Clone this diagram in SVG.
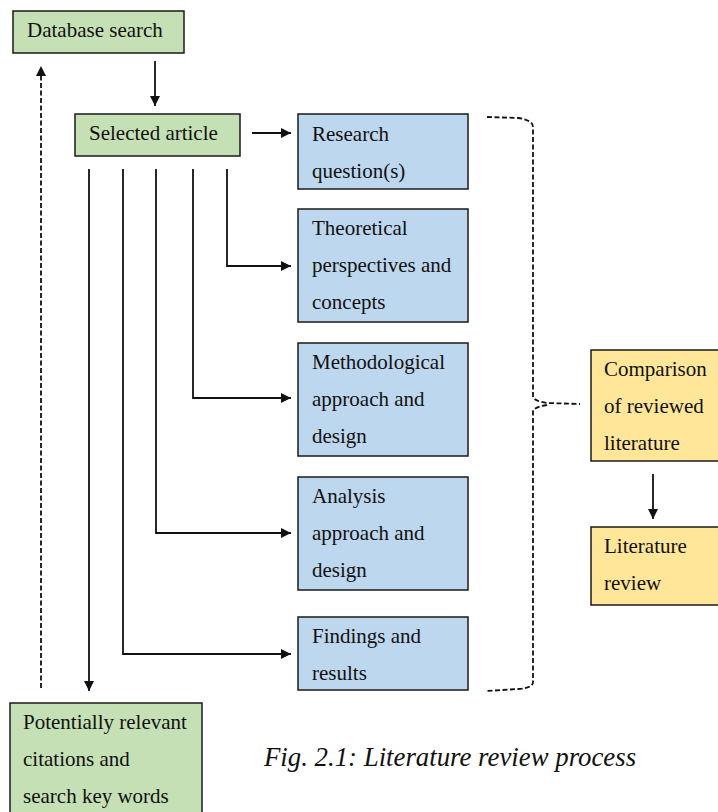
<svg xmlns="http://www.w3.org/2000/svg" width="718" height="812" viewBox="0 0 718 812">
  <style>
    .box { stroke: #1a1a1a; stroke-width: 1.5; }
    .green { fill: #c5e0b4; }
    .blue { fill: #bdd7ee; }
    .yellow { fill: #ffe699; }
    .lbl { font-family: "Liberation Serif", "Times New Roman", serif; font-size: 21px; fill: #111; }
    .cap { font-family: "Liberation Serif", "Times New Roman", serif; font-size: 26.8px; font-style: italic; fill: #111; }
    .wire { fill: none; stroke: #111; stroke-width: 1.8; }
    .dash { fill: none; stroke: #111; stroke-width: 1.8; stroke-dasharray: 5 2.5; }
  </style>
  <defs>
    <marker id="arrow" viewBox="0 0 10 10" refX="10" refY="5" markerWidth="11" markerHeight="10" markerUnits="userSpaceOnUse" orient="auto">
      <path d="M0,0 L10,5 L0,10 Z" fill="#111"/>
    </marker>
  </defs>
  <rect width="718" height="812" fill="#ffffff"/>

  <g id="connectors">
    <!-- search -> selected -->
    <line class="wire" x1="155" y1="61" x2="155" y2="106" marker-end="url(#arrow)"/>
    <!-- selected -> research question -->
    <line class="wire" x1="252" y1="133" x2="291" y2="133" marker-end="url(#arrow)"/>
    <!-- branches down from selected article -->
    <path class="wire" d="M227,169 V266 H291" marker-end="url(#arrow)"/>
    <path class="wire" d="M193,169 V398 H291" marker-end="url(#arrow)"/>
    <path class="wire" d="M156,169 V533 H291" marker-end="url(#arrow)"/>
    <path class="wire" d="M123,169 V654 H291" marker-end="url(#arrow)"/>
    <line class="wire" x1="89" y1="169" x2="89" y2="691" marker-end="url(#arrow)"/>
    <!-- feedback to database search -->
    <line class="dash" x1="41" y1="688" x2="41" y2="66" marker-end="url(#arrow)"/>
    <!-- brace gathering the five aspects -->
    <path class="dash" d="M487,117 L518,118 Q533,120 533,127 V396 Q533,401 547,403 L580,404 M547,405 Q533,407 533,412 V682 Q533,688 518,689 L487,691"/>
    <!-- comparison -> literature review -->
    <line class="wire" x1="653" y1="474" x2="653" y2="519" marker-end="url(#arrow)"/>
  </g>

  <g id="database-search">
    <rect class="box green" x="13" y="11" width="171" height="42"/>
    <text class="lbl" x="27" y="37">Database search</text>
  </g>
  <g id="selected-article">
    <rect class="box green" x="75" y="114" width="165" height="42"/>
    <text class="lbl" x="89" y="140">Selected article</text>
  </g>
  <g id="research-question">
    <rect class="box blue" x="298" y="114" width="170" height="75"/>
    <text class="lbl" x="312" y="141">Research</text>
    <text class="lbl" x="312" y="178">question(s)</text>
  </g>
  <g id="theoretical-perspectives">
    <rect class="box blue" x="298" y="209" width="170" height="113"/>
    <text class="lbl" x="312" y="235">Theoretical</text>
    <text class="lbl" x="312" y="272">perspectives and</text>
    <text class="lbl" x="312" y="309">concepts</text>
  </g>
  <g id="methodological-approach">
    <rect class="box blue" x="298" y="343" width="170" height="113"/>
    <text class="lbl" x="312" y="369">Methodological</text>
    <text class="lbl" x="312" y="406">approach and</text>
    <text class="lbl" x="312" y="443">design</text>
  </g>
  <g id="analysis-approach">
    <rect class="box blue" x="298" y="477" width="170" height="113"/>
    <text class="lbl" x="312" y="503">Analysis</text>
    <text class="lbl" x="312" y="540">approach and</text>
    <text class="lbl" x="312" y="577">design</text>
  </g>
  <g id="findings-results">
    <rect class="box blue" x="298" y="617" width="170" height="73"/>
    <text class="lbl" x="312" y="643">Findings and</text>
    <text class="lbl" x="312" y="680">results</text>
  </g>
  <g id="comparison">
    <rect class="box yellow" x="591" y="350" width="135" height="111"/>
    <text class="lbl" x="604" y="376">Comparison</text>
    <text class="lbl" x="604" y="413">of reviewed</text>
    <text class="lbl" x="604" y="450">literature</text>
  </g>
  <g id="literature-review">
    <rect class="box yellow" x="591" y="527" width="135" height="78"/>
    <text class="lbl" x="604" y="553">Literature</text>
    <text class="lbl" x="604" y="590">review</text>
  </g>
  <g id="potential-citations">
    <rect class="box green" x="10" y="703" width="192" height="115"/>
    <text class="lbl" x="23" y="729">Potentially relevant</text>
    <text class="lbl" x="23" y="766">citations and</text>
    <text class="lbl" x="23" y="803">search key words</text>
  </g>

  <text class="cap" x="264" y="766">Fig. 2.1: Literature review process</text>
</svg>
